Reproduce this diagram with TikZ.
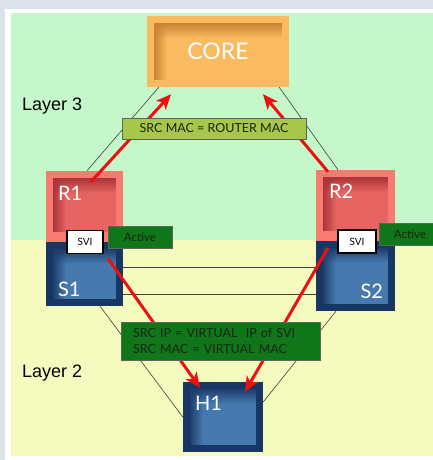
\documentclass[tikz,border=0pt]{standalone}
\usepackage{fontspec}
\setmainfont{Liberation Sans}
\newfontfamily\gill{Lato}
\usetikzlibrary{calc,arrows.meta,fadings}

\definecolor{frame}{RGB}{220,226,236}
\definecolor{lthree}{RGB}{196,247,202}
\definecolor{ltwo}{RGB}{245,250,190}
\definecolor{coreout}{RGB}{250,186,96}
\definecolor{coredark}{RGB}{200,130,50}
\definecolor{rout}{RGB}{249,122,112}
\definecolor{rdark}{RGB}{170,52,56}
\definecolor{rmid}{RGB}{230,100,98}
\definecolor{sout}{RGB}{24,54,100}
\definecolor{sdark}{RGB}{30,62,108}
\definecolor{smid}{RGB}{70,122,174}
\definecolor{lime}{RGB}{168,198,74}
\definecolor{leaf}{RGB}{16,118,26}
\definecolor{ink}{RGB}{24,36,20}
\definecolor{arrowred}{RGB}{236,16,16}

\tikzfading[name=topedge, top color=transparent!0, bottom color=transparent!100]
\tikzfading[name=leftedge, left color=transparent!0, right color=transparent!100]

\begin{document}
\begin{tikzpicture}[x=1pt,y=-1pt,
    devbox/.style={fill=#1, minimum height=71pt, inner sep=0pt},
    devtxt/.style={text=white, font=\gill\fontsize{20}{20}\selectfont, inner sep=0pt},
    tagbox/.style={fill=#1, draw=ink!70, line width=0.6pt, text=ink, inner sep=0pt, align=left},
    svibox/.style={fill=white, draw=black, line width=1.6pt, minimum width=36pt, minimum height=23pt,
        inner sep=0pt, font=\gill\fontsize{10}{10}\selectfont},
    layertxt/.style={anchor=west, inner sep=0pt, font=\fontsize{18}{18}\selectfont},
    link/.style={draw=black!75, line width=0.6pt},
    flow/.style={draw=arrowred, line width=3pt, -{Stealth[length=15pt,width=13pt,inset=4pt]}}]

        % Draw the background and the two layers
        \useasboundingbox (0,0) rectangle (433,460);
        \fill[frame] (0,0) rectangle (433,460);
        \fill[white] (5,9) rectangle (433,460);
        \fill[lthree] (11,13) rectangle (433,240);
        \fill[ltwo] (11,240) rectangle (433,456);

        % Label the layers
        \node[layertxt] (layer3) at (22,106) {Layer 3};
        \node[layertxt] (layer2) at (22,373) {Layer 2};

        % Draw the devices
        \node[devbox=coreout, minimum width=142pt] (CORE) at (218,51.5) {};
        \node[devbox=rout, minimum width=77pt] (R1) at (84.5,206.5) {};
        \node[devbox=sout, minimum width=77pt, minimum height=64pt] (S1) at (84.5,274) {};
        \node[devbox=rout, minimum width=79pt] (R2) at (355.5,205.5) {};
        \node[devbox=sout, minimum width=79pt, minimum height=70pt] (S2) at (355.5,276) {};
        \node[devbox=sout, minimum width=80pt, minimum height=70pt] (H1) at (223,417) {};

        % Draw the sunken faces inside the devices
        \foreach \dev/\mid/\dark/\low in {CORE/coreout/coredark/7, R1/rmid/rdark/10, R2/rmid/rdark/10,
                S1/smid/sdark/7, S2/smid/sdark/7, H1/smid/sdark/7} {
            \fill[\mid] ($(\dev.north west)+(7,7)$) rectangle ($(\dev.south east)+(-7,-\low)$);
            \fill[\dark, path fading=topedge] ($(\dev.north west)+(7,7)$) rectangle ($(\dev.north east)+(-7,22)$);
            \fill[\dark, path fading=leftedge] ($(\dev.north west)+(7,7)$) rectangle ($(\dev.south west)+(20,-\low)$);
        }

        % Label the devices
        \node[devtxt, font=\gill\fontsize{23}{23}\selectfont] (coretxt) at (CORE) {CORE};
        \node[devtxt, anchor=north west] (r1txt) at ($(R1.north west)+(12,15)$) {R1};
        \node[devtxt, anchor=north west] (s1txt) at ($(S1.north west)+(12,40)$) {S1};
        \node[devtxt, anchor=north west] (r2txt) at ($(R2.north west)+(13,14)$) {R2};
        \node[devtxt, anchor=north east] (s2txt) at ($(S2.north east)+(-12,43)$) {S2};
        \node[devtxt, anchor=north west] (h1txt) at ($(H1.north west)+(12,14)$) {H1};

        % Draw the links between the devices
        \draw[link] ($(CORE.south west)+(12,0)$) -- ($(R1.north)+(2.5,0)$);
        \draw[link] ($(CORE.south east)+(-10,0)$) -- ($(R2.north)+(-17.5,0)$);
        \draw[link] ($(S1.east)+(0,-7)$) -- ($(S1.east -| S2.west)+(0,-7)$);
        \draw[link] ($(S1.east)+(0,20)$) -- ($(S1.east -| S2.west)+(0,20)$);
        \draw[link] ($(S1.south)+(15.5,0)$) -- (H1.west);
        \draw[link] ($(S2.south)+(-19.5,0)$) -- ($(H1.east)+(0,-15)$);

        % Draw the SVIs and their state
        \node[svibox] (svi1) at (85,242) {SVI};
        \node[svibox, minimum width=38pt] (svi2) at (357,241.5) {SVI};
        \node[tagbox=leaf, minimum width=64pt, minimum height=22pt, font=\gill\fontsize{11.5}{11.5}\selectfont] (act1) at (140,237) {Active};
        \node[tagbox=leaf, minimum width=62pt, minimum height=22pt, font=\gill\fontsize{11.5}{11.5}\selectfont] (act2) at (410,234) {Active};

        % Draw arrows to indicate the path of the frames
        \draw[flow] ($(R1.north)+(6.5,11)$) -- ($(CORE.south)+(-47,7)$);
        \draw[flow] ($(R2.north)+(-27.5,2)$) -- ($(CORE.south)+(45,7)$);
        \draw[flow] ($(svi1.south east)+(4,4)$) -- ($(H1.north)+(-23,6)$);
        \draw[flow] ($(S2.north)+(-27.5,7)$) -- ($(H1.north)+(22,10)$);

        % Label the frame addresses
        \node[tagbox=lime, minimum width=184pt, minimum height=21pt, font=\gill\fontsize{12.5}{12.5}\selectfont] (l3tag) at (214,128.5) {SRC MAC = ROUTER MAC};
        \node[tagbox=leaf, minimum width=199pt, minimum height=38pt, text width=175pt,
            font=\gill\fontsize{12.5}{16}\selectfont] (l2tag) at (220.5,341) {SRC IP = VIRTUAL\ \ IP of SVI\\SRC MAC = VIRTUAL MAC};
    \end{tikzpicture}
\end{document}
